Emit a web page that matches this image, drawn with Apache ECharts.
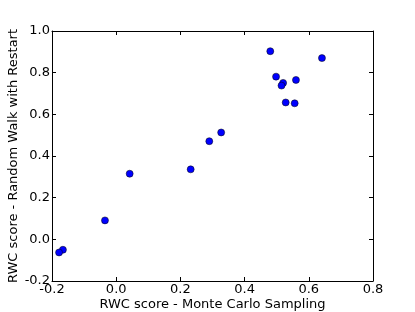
<!DOCTYPE html>
<html><head><meta charset="utf-8">
<script src="https://cdn.jsdelivr.net/npm/echarts@6/dist/echarts.min.js"></script>
<style>html,body{margin:0;padding:0;background:#fff}#c{width:415px;height:312px}</style>
</head><body><div id="c"></div>
<script>
const mcScores = [0.480, 0.641, 0.498, 0.520, 0.515, 0.560, 0.528, 0.556, 0.327, 0.290, 0.232, 0.042, -0.035, -0.166, -0.178];
const rwrScores = [0.903, 0.870, 0.781, 0.751, 0.738, 0.765, 0.657, 0.653, 0.513, 0.471, 0.336, 0.315, 0.091, -0.050, -0.063];
const xLabel = 'RWC score - Monte Carlo Sampling';
const yLabel = 'RWC score - Random Walk with Restart';

const font = 'DejaVu Sans';
const chart = echarts.init(document.getElementById('c'), null, {renderer: 'canvas'});
const fmt = v => v.toFixed(1);
const line = {show: true, onZero: false, lineStyle: {color: '#000', width: 1}};
const tick = {show: true, inside: true, length: 4, lineStyle: {color: '#000', width: 1}};
chart.setOption({
  animation: false,
  grid: {left: 52, right: 42, top: 31, bottom: 31, containLabel: false, outerBoundsMode: 'none'},
  xAxis: [
    {type: 'value', position: 'bottom', min: -0.2, max: 0.8, interval: 0.2,
     axisLine: line, axisTick: tick, splitLine: {show: false},
     axisLabel: {formatter: fmt, color: '#000', fontFamily: font, fontSize: 13, margin: 2},
     name: xLabel, nameLocation: 'middle', nameGap: 17, nameMoveOverlap: false,
     nameTextStyle: {color: '#000', fontFamily: font, fontSize: 13}},
    {type: 'value', position: 'top', min: -0.2, max: 0.8, interval: 0.2,
     axisLine: line, axisTick: tick, splitLine: {show: false}, axisLabel: {show: false}}
  ],
  yAxis: [
    {type: 'value', position: 'left', min: -0.2, max: 1.0, interval: 0.2,
     axisLine: line, axisTick: tick, splitLine: {show: false},
     axisLabel: {formatter: fmt, color: '#000', fontFamily: font, fontSize: 13, margin: 2},
     name: yLabel, nameLocation: 'middle', nameGap: 32, nameMoveOverlap: false,
     nameTextStyle: {color: '#000', fontFamily: font, fontSize: 13}},
    {type: 'value', position: 'right', min: -0.2, max: 1.0, interval: 0.2,
     axisLine: line, axisTick: tick, splitLine: {show: false}, axisLabel: {show: false}}
  ],
  series: [{
    type: 'scatter', xAxisIndex: 0, yAxisIndex: 0,
    data: mcScores.map((x, i) => [x, rwrScores[i]]),
    symbolSize: 7,
    itemStyle: {color: '#0000ff', borderColor: '#000', borderWidth: 0.5, opacity: 1}
  }]
});
</script></body></html>
